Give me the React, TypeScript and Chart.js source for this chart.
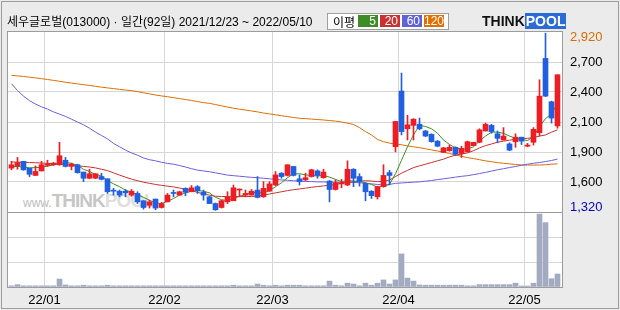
import React, { useEffect, useRef } from 'react';
import { Chart, registerables } from 'chart.js';

Chart.register(...registerables);

// ---------------- data ----------------
const TITLE = '세우글로벌(013000) · 일간(92일) 2021/12/23 ~ 2022/05/10';

const DATES: string[] = [
  '2021-12-23', '2021-12-24', '2021-12-27', '2021-12-28', '2021-12-29', '2021-12-30',
  '2022-01-03', '2022-01-04', '2022-01-05', '2022-01-06', '2022-01-07', '2022-01-10', '2022-01-11', '2022-01-12', '2022-01-13', '2022-01-14',
  '2022-01-17', '2022-01-18', '2022-01-19', '2022-01-20', '2022-01-21', '2022-01-24', '2022-01-25', '2022-01-26', '2022-01-27', '2022-01-28',
  '2022-02-03', '2022-02-04', '2022-02-07', '2022-02-08', '2022-02-09', '2022-02-10', '2022-02-11', '2022-02-14', '2022-02-15', '2022-02-16',
  '2022-02-17', '2022-02-18', '2022-02-21', '2022-02-22', '2022-02-23', '2022-02-24', '2022-02-25', '2022-02-28',
  '2022-03-02', '2022-03-03', '2022-03-04', '2022-03-07', '2022-03-08', '2022-03-10', '2022-03-11', '2022-03-14', '2022-03-15', '2022-03-16',
  '2022-03-17', '2022-03-18', '2022-03-21', '2022-03-22', '2022-03-23', '2022-03-24', '2022-03-25', '2022-03-28', '2022-03-29', '2022-03-30', '2022-03-31',
  '2022-04-01', '2022-04-04', '2022-04-05', '2022-04-06', '2022-04-07', '2022-04-08', '2022-04-11', '2022-04-12', '2022-04-13', '2022-04-14',
  '2022-04-15', '2022-04-18', '2022-04-19', '2022-04-20', '2022-04-21', '2022-04-22', '2022-04-25', '2022-04-26', '2022-04-27', '2022-04-28', '2022-04-29',
  '2022-05-02', '2022-05-03', '2022-05-04', '2022-05-06', '2022-05-09', '2022-05-10',
];

const MONTH_LABELS = ['22/01', '22/02', '22/03', '22/04', '22/05'];

const OPEN = [
  1710, 1730, 1770, 1710, 1645, 1685, 1735, 1740, 1740, 1780,
  1725, 1740, 1675, 1620, 1620, 1635, 1615, 1510, 1505, 1505,
  1470, 1485, 1420, 1380, 1435, 1360, 1410, 1490, 1470, 1530,
  1500, 1545, 1495, 1455, 1395, 1360, 1410, 1420, 1515, 1470,
  1470, 1515, 1455, 1505, 1560, 1665, 1645, 1725, 1615, 1605,
  1635, 1685, 1625, 1595, 1520, 1570, 1560, 1700, 1635, 1575,
  1505, 1455, 1545, 1670, 1900, 2395, 2060, 2090, 2100, 2040,
  2010, 1950, 1850, 1865, 1895, 1840, 1855, 1910, 1940, 2040,
  2090, 2015, 1960, 1925, 1945, 1985, 1905, 1940, 2025, 2685,
  2300, 2085,
];
const HIGH = [
  1770, 1805, 1770, 1710, 1730, 1770, 1780, 1760, 1940, 1805,
  1755, 1745, 1675, 1700, 1660, 1665, 1615, 1530, 1515, 1520,
  1520, 1500, 1420, 1425, 1435, 1405, 1485, 1515, 1505, 1535,
  1555, 1555, 1515, 1460, 1400, 1425, 1500, 1560, 1525, 1515,
  1520, 1635, 1590, 1590, 1680, 1670, 1740, 1725, 1650, 1665,
  1700, 1695, 1700, 1600, 1605, 1610, 1775, 1705, 1660, 1580,
  1510, 1550, 1740, 1690, 2125, 2555, 2180, 2150, 2155, 2045,
  2015, 1955, 1895, 1915, 1900, 1905, 1950, 1940, 2060, 2110,
  2100, 2040, 2070, 1935, 2015, 1985, 1930, 2070, 2495, 2910,
  2305, 2540,
];
const LOW = [
  1695, 1700, 1690, 1635, 1645, 1685, 1725, 1735, 1735, 1720,
  1695, 1665, 1590, 1615, 1615, 1605, 1485, 1470, 1455, 1455,
  1460, 1395, 1345, 1355, 1340, 1355, 1410, 1455, 1470, 1465,
  1500, 1485, 1425, 1395, 1335, 1355, 1395, 1420, 1455, 1455,
  1470, 1445, 1450, 1505, 1555, 1620, 1640, 1640, 1560, 1600,
  1630, 1620, 1620, 1410, 1515, 1535, 1555, 1545, 1550, 1420,
  1440, 1435, 1540, 1560, 1855, 2005, 1960, 1960, 2050, 1990,
  1940, 1900, 1850, 1860, 1820, 1805, 1855, 1910, 1935, 2040,
  2020, 1935, 1960, 1865, 1895, 1920, 1900, 1915, 1995, 2345,
  2110, 2065,
];
const CLOSE = [
  1740, 1760, 1695, 1655, 1680, 1740, 1745, 1755, 1820, 1725,
  1745, 1670, 1620, 1660, 1660, 1610, 1500, 1505, 1470, 1490,
  1505, 1410, 1360, 1410, 1355, 1395, 1470, 1485, 1500, 1495,
  1535, 1510, 1470, 1395, 1340, 1420, 1455, 1535, 1520, 1485,
  1505, 1450, 1530, 1570, 1650, 1635, 1740, 1645, 1590, 1625,
  1695, 1645, 1675, 1520, 1580, 1580, 1700, 1620, 1590, 1500,
  1465, 1545, 1645, 1645, 2125, 2035, 2095, 2145, 2060, 1995,
  1945, 1905, 1890, 1895, 1835, 1885, 1945, 1940, 2050, 2100,
  2035, 1975, 1995, 1870, 1985, 1950, 1915, 2055, 2350, 2350,
  2155, 2540,
];

// volume, unit x10000 shares
const VOLUME = [
  40, 80, 40, 40, 40, 40, 40, 40, 270, 70,
  40, 40, 60, 40, 40, 40, 60, 40, 40, 40,
  40, 40, 40, 40, 40, 40, 40, 40, 40, 40,
  40, 40, 40, 40, 40, 40, 40, 60, 40, 40,
  40, 100, 60, 40, 60, 40, 60, 60, 60, 40,
  40, 40, 40, 200, 60, 40, 130, 100, 40, 130,
  60, 130, 240, 100, 240, 1120, 300, 200, 70, 60,
  60, 60, 60, 60, 60, 60, 40, 40, 80, 80,
  80, 80, 80, 80, 130, 30, 30, 130, 2470, 2180,
  280, 440,
];

const MA5 = [
  1723, 1725, 1720, 1712, 1715, 1717, 1728, 1738, 1753, 1760,
  1752, 1735, 1700, 1680, 1655, 1640, 1600, 1570, 1545, 1515,
  1495, 1475, 1450, 1425, 1400, 1395, 1415, 1440, 1470, 1490,
  1505, 1510, 1505, 1490, 1450, 1430, 1420, 1440, 1460, 1475,
  1495, 1490, 1490, 1510, 1545, 1580, 1625, 1660, 1660, 1650,
  1645, 1640, 1645, 1630, 1610, 1590, 1600, 1595, 1590, 1580,
  1565, 1540, 1550, 1565, 1660, 1780, 1900, 2005, 2090, 2080,
  2060, 2020, 1960, 1920, 1890, 1880, 1880, 1900, 1950, 1995,
  2030, 2030, 2020, 1995, 1975, 1965, 1955, 1990, 2080, 2150,
  2190, 2290,
];
const MA20 = [
  1765, 1763, 1762, 1760, 1758, 1755, 1752, 1750, 1745, 1740,
  1735, 1730, 1725, 1720, 1712, 1700, 1688, 1668, 1648, 1630,
  1612, 1598, 1585, 1575, 1565, 1557, 1550, 1543, 1533, 1522,
  1510, 1495, 1480, 1470, 1460, 1458, 1457, 1457, 1457, 1457,
  1458, 1462, 1470, 1480, 1490, 1500, 1510, 1518, 1525, 1532,
  1540, 1546, 1552, 1558, 1565, 1575, 1583, 1590, 1595, 1598,
  1595, 1590, 1592, 1605, 1635, 1665, 1690, 1715, 1730, 1745,
  1760, 1775, 1790, 1810, 1825, 1835, 1845, 1865, 1890, 1910,
  1925, 1940, 1950, 1958, 1968, 1972, 1975, 1982, 1995, 2005,
  2030, 2050,
];
const MA60 = [
  2460, 2400, 2350, 2310, 2280, 2255, 2235, 2210, 2190, 2170,
  2145, 2120, 2095, 2065, 2030, 2000, 1970, 1930, 1900, 1870,
  1845, 1825, 1800, 1785, 1775, 1762, 1752, 1745, 1733, 1720,
  1705, 1692, 1685, 1678, 1668, 1658, 1648, 1643, 1638, 1633,
  1628, 1625, 1620, 1615, 1610, 1605, 1602, 1598, 1595, 1591,
  1590, 1588, 1587, 1586, 1585, 1584, 1584, 1583, 1580, 1575,
  1570, 1565, 1560, 1565, 1575, 1578, 1582, 1585, 1588, 1594,
  1600, 1608, 1615, 1622, 1630, 1637, 1643, 1652, 1662, 1672,
  1684, 1695, 1705, 1715, 1725, 1735, 1745, 1753, 1760, 1768,
  1778, 1790,
];
const MA120 = [
  2535, 2530, 2525, 2518, 2512, 2505, 2498, 2490, 2482, 2473,
  2466, 2459, 2452, 2445, 2437, 2430, 2423, 2417, 2410, 2404,
  2399, 2390, 2380, 2370, 2360, 2352, 2345, 2336, 2328, 2320,
  2311, 2302, 2292, 2286, 2275, 2264, 2253, 2242, 2234, 2226,
  2218, 2210, 2200, 2192, 2184, 2176, 2168, 2160, 2153, 2150,
  2146, 2142, 2138, 2133, 2128, 2120, 2110, 2098, 2070, 2035,
  2005, 1965, 1945, 1932, 1924, 1918, 1907, 1900, 1892, 1882,
  1872, 1862, 1852, 1840, 1827, 1815, 1803, 1795, 1785, 1775,
  1767, 1759, 1753, 1748, 1742, 1738, 1737, 1737, 1738, 1740,
  1745, 1748,
];

const MA_PERIODS = ['5', '20', '60', '120'];
const LEGEND_TITLE = '이평';

const PRICE_MIN = 1320;
const PRICE_MAX = 2920;
const PRICE_TICK_LABELS = ['1,320', '1,600', '1,900', '2,100', '2,400', '2,700', '2,920'];

const VOLUME_MAX = 2540;
const VOLUME_TICK_LABELS = [' x10000', '850', '1693'];

// ---------------- styles ----------------
const UP = '#ee1d23';
const DOWN = '#1f5fe0';
const MA_COLORS = ['#3f8f22', '#c8302e', '#6a5ee0', '#dc6e00'];
const LEGEND_COLORS = ['#3d8c28', '#c83232', '#6262d8', '#e07000'];
const VOL_COLOR = '#a3abc3';
const GRID = '#d6d6d6';
const FRAME = '#9c9c9c';
const BG = '#ebebeb';
const TICK_FONT = { family: 'Liberation Sans', size: 13 };

const W = 620;
const H = 310;
const AREA = { left: 8, top: 32, right: 562, bottom: 287, split: 212 };

export default function App() {
  const ref = useRef<HTMLCanvasElement | null>(null);

  useEffect(() => {
    const canvas = ref.current;
    if (!canvas) return;

    const pricePanel = AREA.split - AREA.top;
    const volPanel = AREA.bottom - AREA.split;
    const perPx = (PRICE_MAX - PRICE_MIN) / pricePanel;
    const priceAxisMin = PRICE_MIN - volPanel * perPx;
    const volAxisMax = (VOLUME_MAX * (pricePanel + volPanel)) / volPanel;

    const slot = 6;
    const xMin = -3.5 / slot;
    const xMax = xMin + (AREA.right - AREA.left) / slot;

    const monthTicks: number[] = [];
    DATES.forEach((d, i) => {
      if (i > 0 && d.slice(0, 7) !== DATES[i - 1].slice(0, 7)) monthTicks.push(i - 0.5);
    });

    const nP = PRICE_TICK_LABELS.length;
    const nudge = 5 * perPx;
    const priceTicks = PRICE_TICK_LABELS.map((_, k) => {
      let v = PRICE_MIN + (k * (PRICE_MAX - PRICE_MIN)) / (nP - 1);
      if (k === 0) v += nudge;
      if (k === nP - 1) v -= nudge;
      return v;
    });
    const volTicks = VOLUME_TICK_LABELS.map((_, k) => (k * VOLUME_MAX) / 3);

    const colors = CLOSE.map((c, i) => (c >= OPEN[i] ? UP : DOWN));
    const pts = (arr: number[]) => arr.map((y, i) => ({ x: i, y }));

    const framePlugin = {
      id: 'frame',
      afterDraw(chart: any) {
        const { ctx, chartArea: a, scales } = chart;
        const ySplit = Math.round(scales.y.getPixelForValue(PRICE_MIN));
        ctx.save();
        ctx.strokeStyle = FRAME;
        ctx.lineWidth = 1;
        ctx.strokeRect(a.left - 0.5, a.top - 0.5, a.right - a.left + 1, a.bottom - a.top + 1);
        ctx.beginPath();
        ctx.moveTo(a.left, ySplit + 0.5);
        ctx.lineTo(a.right, ySplit + 0.5);
        ctx.stroke();
        ctx.restore();
      },
    };

    const line = (data: number[], color: string, order: number) => ({
      type: 'line',
      data: pts(data),
      borderColor: color,
      borderWidth: 1,
      pointRadius: 0,
      fill: false,
      tension: 0,
      yAxisID: 'y',
      order,
    });

    const chart = new Chart(canvas, {
      type: 'bar',
      data: {
        datasets: [
          {
            type: 'bar',
            data: OPEN.map((o, i) => ({ x: i, y: [Math.min(o, CLOSE[i]), Math.max(o, CLOSE[i])] })),
            backgroundColor: colors,
            barThickness: 5,
            minBarLength: 1,
            grouped: false,
            yAxisID: 'y',
            order: 0,
          },
          {
            type: 'bar',
            data: LOW.map((l, i) => ({ x: i, y: [l, HIGH[i]] })),
            backgroundColor: colors,
            barThickness: 1,
            grouped: false,
            yAxisID: 'y',
            order: 1,
          },
          line(MA5, MA_COLORS[0], 2),
          line(MA20, MA_COLORS[1], 3),
          line(MA60, MA_COLORS[2], 4),
          line(MA120, MA_COLORS[3], 5),
          {
            type: 'bar',
            data: pts(VOLUME),
            backgroundColor: VOL_COLOR,
            barThickness: 5,
            minBarLength: 1,
            grouped: false,
            yAxisID: 'v',
            order: 6,
          },
        ] as any,
      },
      options: {
        responsive: false,
        animation: false,
        devicePixelRatio: 1,
        events: [],
        layout: { autoPadding: false, padding: { left: AREA.left, top: AREA.top, right: 0, bottom: 0 } },
        plugins: { legend: { display: false }, tooltip: { enabled: false } },
        scales: {
          x: {
            type: 'linear',
            min: xMin,
            max: xMax,
            offset: false,
            bounds: 'data',
            border: { display: false },
            grid: { offset: false, color: GRID, drawTicks: false },
            afterBuildTicks: (s: any) => {
              s.ticks = monthTicks.map((v) => ({ value: v }));
            },
            afterFit: (s: any) => {
              s.height = H - AREA.bottom;
            },
            ticks: {
              autoSkip: false,
              maxRotation: 0,
              minRotation: 0,
              padding: 6,
              color: '#000',
              font: TICK_FONT,
              callback: (_v: any, i: number) => MONTH_LABELS[i],
            },
          },
          v: {
            type: 'linear',
            position: 'right',
            weight: 0,
            min: 0,
            max: volAxisMax,
            bounds: 'data',
            beginAtZero: false,
            border: { display: false },
            grid: {
              drawTicks: false,
              color: (c: any) => (c.index === 0 ? 'rgba(0,0,0,0)' : GRID),
            },
            afterBuildTicks: (s: any) => {
              s.ticks = volTicks.map((v) => ({ value: v }));
            },
            afterFit: (s: any) => {
              s.width = 0;
            },
            ticks: {
              autoSkip: false,
              padding: 8,
              color: '#000',
              font: TICK_FONT,
              callback: (_v: any, i: number) => VOLUME_TICK_LABELS[i],
            },
          },
          y: {
            type: 'linear',
            position: 'right',
            weight: 1,
            min: priceAxisMin,
            max: PRICE_MAX,
            bounds: 'data',
            beginAtZero: false,
            border: { display: false },
            grid: {
              drawTicks: false,
              color: (c: any) => (c.index === 0 || c.index === nP - 1 ? 'rgba(0,0,0,0)' : GRID),
            },
            afterBuildTicks: (s: any) => {
              s.ticks = priceTicks.map((v) => ({ value: v }));
            },
            afterFit: (s: any) => {
              s.width = W - AREA.right;
            },
            ticks: {
              autoSkip: false,
              padding: 8,
              font: TICK_FONT,
              color: (c: any) => (c.index === 0 ? '#0000c8' : c.index === nP - 1 ? '#d86c00' : '#000'),
              callback: (_v: any, i: number) => PRICE_TICK_LABELS[i],
            },
          },
        },
      } as any,
      plugins: [framePlugin],
    });

    return () => chart.destroy();
  }, []);

  const abs = (s: React.CSSProperties): React.CSSProperties => ({ position: 'absolute', ...s });

  return (
    <div style={abs({ left: 0, top: 0, width: W, height: H, background: BG, overflow: 'hidden' })}>
      <div style={abs({ left: 1, top: 1, width: W - 2, height: H - 2, boxSizing: 'border-box', border: `1px solid ${FRAME}` })} />
      <div
        style={abs({
          left: AREA.left,
          top: AREA.top,
          width: AREA.right - AREA.left,
          height: AREA.bottom - AREA.top,
          background: '#fff',
        })}
      />
      {/* watermark */}
      <div
        style={abs({
          left: 23,
          top: 190,
          whiteSpace: 'nowrap',
          fontFamily: 'Liberation Sans, Arial, sans-serif',
          fontWeight: 'bold',
          lineHeight: '22px',
        })}
      >
        <span style={{ fontSize: 12, color: '#bcbcbc', fontWeight: 'normal' }}>www.</span>
        <span style={{ fontSize: 19, color: '#c6c6c6', letterSpacing: -1 }}>THINK</span>
        <span style={{ fontSize: 19, color: '#dedede', letterSpacing: -1 }}>POOL</span>
      </div>
      <canvas ref={ref} width={W} height={H} style={abs({ left: 0, top: 0, width: W, height: H })} />
      {/* title */}
      <div
        style={abs({
          left: 7,
          top: 14,
          fontSize: 12,
          lineHeight: '16px',
          whiteSpace: 'nowrap',
          color: '#000',
          fontFamily: '"Liberation Sans", "Noto Sans CJK KR", sans-serif',
        })}
      >
        {TITLE}
      </div>
      {/* MA legend */}
      <div
        style={abs({
          left: 327,
          top: 13,
          width: 122,
          height: 17,
          boxSizing: 'border-box',
          border: '1px solid #a0a0a0',
          background: '#fff',
        })}
      >
        <span
          style={abs({
            left: 5,
            top: 0,
            fontSize: 12,
            lineHeight: '15px',
            color: '#000',
            fontFamily: '"Noto Sans CJK KR", sans-serif',
          })}
        >
          {LEGEND_TITLE}
        </span>
        {MA_PERIODS.map((p, k) => (
          <span
            key={p}
            style={abs({
              left: 30 + k * 22,
              top: 1,
              width: 20,
              height: 12,
              boxSizing: 'border-box',
              paddingRight: 2,
              background: LEGEND_COLORS[k],
              color: '#fff',
              textAlign: 'right',
              fontSize: 12,
              lineHeight: '12px',
              fontFamily: '"Liberation Sans", sans-serif',
            })}
          >
            {p}
          </span>
        ))}
      </div>
      {/* logo */}
      <div
        style={abs({
          left: 482,
          top: 14,
          height: 14,
          whiteSpace: 'nowrap',
          fontFamily: '"Liberation Sans", Arial, sans-serif',
          fontWeight: 'bold',
          fontSize: 14,
          lineHeight: '14px',
        })}
      >
        <span style={{ color: '#111' }}>THINK</span>
        <span style={{ color: '#fff', background: '#2b6bd6', padding: '0 1px' }}>POOL</span>
      </div>
    </div>
  );
}
